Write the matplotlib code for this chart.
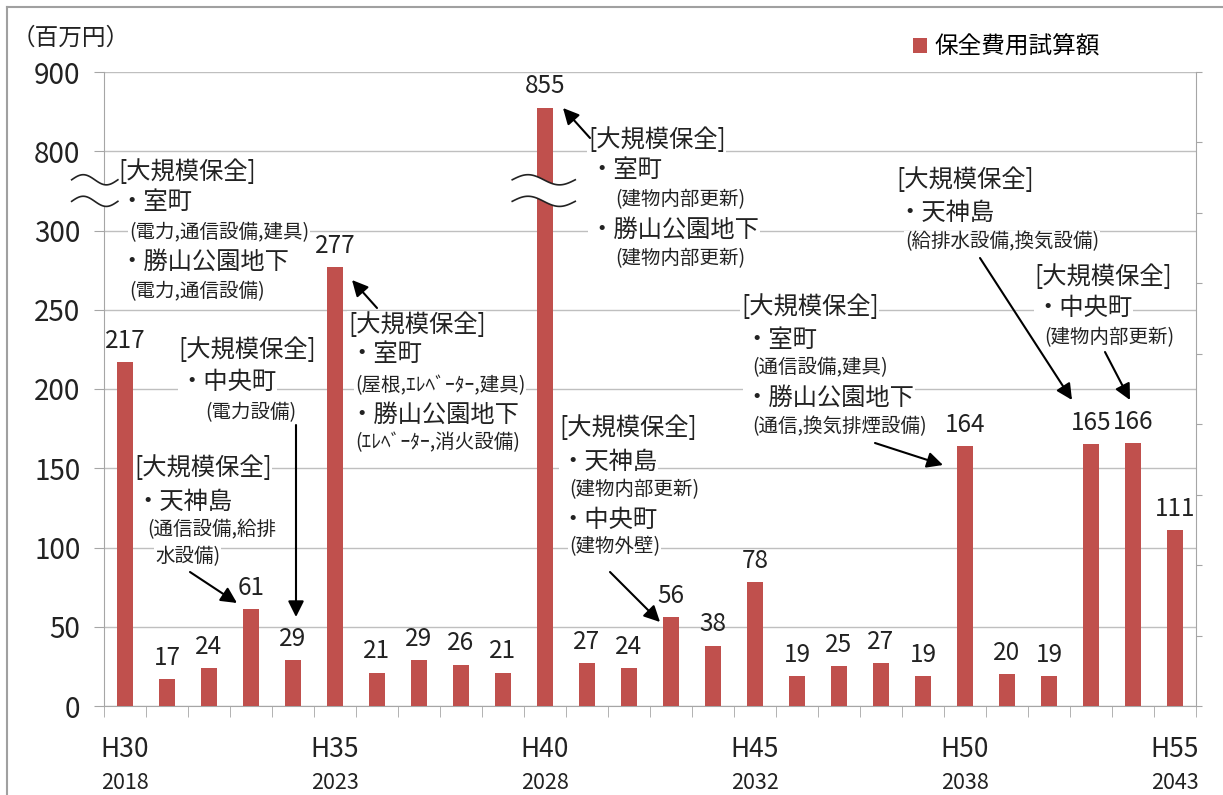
import numpy as np
import matplotlib
matplotlib.use('Agg')
import matplotlib.pyplot as plt
from matplotlib.transforms import blended_transform_factory
from matplotlib.patches import Polygon
from matplotlib.lines import Line2D

plt.rcParams['font.family'] = ['Noto Sans CJK JP', 'DejaVu Sans']

# 保全費用試算額（百万円）H30〜H55
costs = [217, 17, 24, 61, 29, 277, 21, 29, 26, 21, 855, 27, 24, 56, 38,
         78, 19, 25, 27, 19, 164, 20, 19, 165, 166, 111]
tick_idx = [0, 5, 10, 15, 20, 25]
tick_wareki = ['H30', 'H35', 'H40', 'H45', 'H50', 'H55']
tick_seireki = ['2018', '2023', '2028', '2032', '2038', '2043']
y_ticks = [0, 50, 100, 150, 200, 250, 300, 800, 900]

# 大規模保全の内訳
notes_h30 = ['[大規模保全]', '・室町', '(電力,通信設備,建具)', '・勝山公園地下', '(電力,通信設備)']
notes_h34 = ['[大規模保全]', '・中央町', '(電力設備)']
notes_h33 = ['[大規模保全]', '・天神島', '(通信設備,給排', '水設備)']
notes_h35 = ['[大規模保全]', '・室町', '(屋根,ｴﾚﾍﾞｰﾀｰ,建具)', '・勝山公園地下', '(ｴﾚﾍﾞｰﾀｰ,消火設備)']
notes_h40 = ['[大規模保全]', '・室町', '(建物内部更新)', '・勝山公園地下', '(建物内部更新)']
notes_h43 = ['[大規模保全]', '・天神島', '(建物内部更新)', '・中央町', '(建物外壁)']
notes_h50 = ['[大規模保全]', '・室町', '(通信設備,建具)', '・勝山公園地下', '(通信,換気排煙設備)']
notes_h53 = ['[大規模保全]', '・天神島', '(給排水設備,換気設備)']
notes_h54 = ['[大規模保全]', '・中央町', '(建物内部更新)']

BAR_COLOR = '#C0504D'
GRID = '#BFBFBF'
AXIS = '#A6A6A6'

W, H = 1223, 795
fig = plt.figure(figsize=(W / 100, H / 100), dpi=100)
AX_L, AX_R, AX_T, AX_B = 104, 1196, 72, 706
ax = fig.add_axes([AX_L / W, 1 - AX_B / H, (AX_R - AX_L) / W, (AX_B - AX_T) / H])


def frac(x, y):
    # ピクセル位置 -> 軸の比率座標
    return (x - AX_L) / (AX_R - AX_L), (AX_B - y) / (AX_B - AX_T)


# 300〜800 を圧縮した縦軸
bx = [-1e4, 0, 300, 800, 1e4]
by = [-1e4, 0, 300, 350, 350 + (1e4 - 800) / 2]
ax.set_yscale('function', functions=(lambda v: np.interp(v, bx, by),
                                     lambda u: np.interp(u, by, bx)))

x = np.arange(len(costs))
bars = ax.bar(x, costs, width=0.4, color=BAR_COLOR, zorder=3, label='保全費用試算額')

for i, v in enumerate(costs):
    ax.annotate(str(v), xy=(i, v), xytext=(0, 6), textcoords='offset points',
                ha='center', va='bottom', fontsize=17.5, color='#222222', zorder=4)

ax.set_xlim(-0.5, len(costs) - 0.5)
ax.set_ylim(0, 900)
ax.set_yticks(y_ticks)
ax.set_yticklabels([str(t) for t in y_ticks], fontsize=20, color='#222222')
ax.tick_params(axis='y', length=7, color=AXIS, pad=10)
ax.grid(axis='y', color=GRID, lw=1)
ax.set_axisbelow(True)

ax.set_xticks([])
ax.set_xticks(np.arange(len(costs) + 1) - 0.5, minor=True)
ax.tick_params(axis='x', which='minor', length=8, color=AXIS)

for s in ['left', 'bottom', 'right']:
    ax.spines[s].set_color(AXIS)
ax.spines['top'].set_visible(False)

ax2 = ax.twinx()
ax2.set_ylim(0, 9)
ax2.set_yticks(np.arange(10))
ax2.tick_params(axis='y', length=4, color=AXIS, labelright=False)
for s in ['left', 'bottom', 'right', 'top']:
    ax2.spines[s].set_visible(False)

xt = blended_transform_factory(ax.transData, ax.transAxes)
for i, h, yr in zip(tick_idx, tick_wareki, tick_seireki):
    ax.text(i, -0.069, h, transform=xt, ha='center', va='center', fontsize=19, color='#222222')
    ax.text(i, -0.122, yr, transform=xt, ha='center', va='center', fontsize=15.5, color='#222222')


# 省略記号（波線）
def draw_break(x0, x1, yc=0.813, gap=0.017):
    t = np.linspace(0, 1, 80)
    xs = x0 + (x1 - x0) * t
    wave = 0.008 * np.sin(2 * np.pi * t)
    up, lo = yc + gap + wave, yc - gap + wave
    poly = Polygon(np.column_stack([np.r_[xs, xs[::-1]], np.r_[up, lo[::-1]]]),
                   closed=True, transform=xt, facecolor='white', edgecolor='none',
                   clip_on=False, zorder=6)
    ax.add_patch(poly)
    for yy in (up, lo):
        ax.plot(xs, yy, transform=xt, color='#222222', lw=1.2, clip_on=False, zorder=7)


draw_break(-1.27, -0.17)
draw_break(9.22, 10.72)

SIZES = {'h': 17.5, 'b': 17.5, 's': 14}


def block(lines, pos):
    for text, (px, py) in zip(lines, pos):
        kind = 'h' if text.startswith('[') else ('b' if text.startswith('・') else 's')
        fx, fy = frac(px, py)
        ax.text(fx, fy, text, transform=ax.transAxes, ha='left', va='center',
                fontsize=SIZES[kind], color='#222222', zorder=5,
                bbox=dict(facecolor='white', edgecolor='none', pad=0.5))


def arrow(tail, tip):
    ax.annotate('', xy=frac(*tip), xytext=frac(*tail),
                xycoords='axes fraction', textcoords='axes fraction',
                arrowprops=dict(arrowstyle='-|>', color='black', lw=1.5,
                                mutation_scale=24, shrinkA=0, shrinkB=0), zorder=5)


block(notes_h30, [(118, 172), (119, 202), (129, 233), (119, 262), (129, 292)])
block(notes_h34, [(178, 350), (179, 382), (205, 413)])
arrow((296, 425), (296, 617))
block(notes_h33, [(134, 468), (135, 502), (147, 530), (155, 557)])
arrow((190, 572), (237, 603))
block(notes_h35, [(348, 325), (349, 354), (355, 386), (349, 415), (355, 443)])
arrow((377, 308), (352, 280))
block(notes_h40, [(588, 140), (589, 170), (615, 200), (589, 230), (615, 259)])
arrow((590, 138), (563, 108))
block(notes_h43, [(559, 428), (560, 462), (569, 490), (560, 520), (569, 547)])
arrow((610, 572), (660, 622))
block(notes_h50, [(741, 307), (744, 340), (752, 368), (744, 398), (752, 427)])
arrow((875, 443), (943, 465))
block(notes_h53, [(896, 180), (897, 213), (905, 242)])
arrow((980, 258), (1072, 400))
block(notes_h54, [(1034, 277), (1035, 308), (1044, 338)])
arrow((1105, 352), (1130, 400))

fig.text(12 / W, 1 - 38 / H, '（百万円）', ha='left', va='center', fontsize=17, color='#222222')
ax.legend(handles=[bars], loc='center left', bbox_to_anchor=(913 / W, 1 - 47 / H),
          bbox_transform=fig.transFigure, frameon=False, fontsize=17,
          handlelength=0.6, handleheight=0.6, handletextpad=0.3,
          borderpad=0, borderaxespad=0)

# 外枠
fig.add_artist(Line2D([7 / W, 7 / W], [0, 1 - 7 / H], color='#A0A0A0', lw=1.5))
fig.add_artist(Line2D([7 / W, 1], [1 - 7 / H, 1 - 7 / H], color='#A0A0A0', lw=1.5))

fig.savefig('out.png', dpi=100)
